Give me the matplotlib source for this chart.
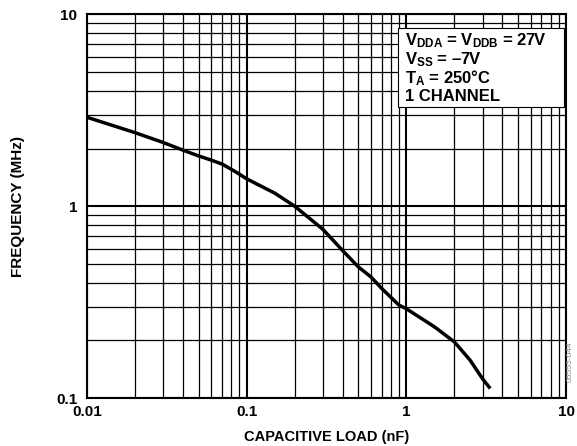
import matplotlib
matplotlib.use("Agg")
import matplotlib.pyplot as plt
from matplotlib.patches import Rectangle
from matplotlib.ticker import LogLocator, NullFormatter, FixedLocator, FixedFormatter

plt.rcParams['font.family'] = ['Liberation Sans', 'DejaVu Sans']
plt.rcParams['mathtext.fontset'] = 'custom'
plt.rcParams['mathtext.rm'] = 'Liberation Sans:bold'
plt.rcParams['mathtext.it'] = 'Liberation Sans:bold'
plt.rcParams['mathtext.bf'] = 'Liberation Sans:bold'

# Data
cap_nf = [0.01, 0.02, 0.03, 0.04, 0.05, 0.06, 0.07, 0.08, 0.09, 0.1, 0.15, 0.2,
          0.3, 0.4, 0.5, 0.6, 0.7, 0.8, 0.9, 1.0, 1.5, 2.0, 2.5, 3.0, 3.3]
freq_mhz = [2.91, 2.42, 2.15, 1.96, 1.83, 1.74, 1.66, 1.56, 1.47, 1.39, 1.17, 1.0,
            0.758, 0.586, 0.483, 0.428, 0.373, 0.335, 0.305, 0.292, 0.235, 0.196, 0.158, 0.126, 0.114]

x_ticks = [0.01, 0.1, 1, 10]
x_ticklabels = ["0.01", "0.1", "1", "10"]
y_ticks = [0.1, 1, 10]
y_ticklabels = ["0.1", "1", "10"]

fig = plt.figure(figsize=(5.77, 4.46), dpi=100)
ax = fig.add_axes([0.1508, 0.1076, 0.8302, 0.8599])
ax.set_xscale('log')
ax.set_yscale('log')
ax.set_xlim(0.01, 10)
ax.set_ylim(0.1, 10)

ax.xaxis.set_major_locator(FixedLocator(x_ticks))
ax.xaxis.set_major_formatter(FixedFormatter(x_ticklabels))
ax.yaxis.set_major_locator(FixedLocator(y_ticks))
ax.yaxis.set_major_formatter(FixedFormatter(y_ticklabels))
ax.xaxis.set_minor_locator(LogLocator(base=10, subs=range(2, 10)))
ax.yaxis.set_minor_locator(LogLocator(base=10, subs=range(2, 10)))
ax.xaxis.set_minor_formatter(NullFormatter())
ax.yaxis.set_minor_formatter(NullFormatter())

ax.grid(True, which='major', color='black', linewidth=1.5)
ax.grid(True, which='minor', color='black', linewidth=0.9)
ax.tick_params(which='both', length=0)
ax.tick_params(axis='x', pad=5)
ax.tick_params(axis='y', pad=7)
for lab in ax.get_xticklabels() + ax.get_yticklabels():
    lab.set_fontweight('bold')
    lab.set_fontsize(11)
for sp in ax.spines.values():
    sp.set_linewidth(1.5)
    sp.set_color('black')

ax.plot(cap_nf, freq_mhz, color='black', linewidth=2.5, zorder=3)

ax.set_xlabel("CAPACITIVE LOAD (nF)", fontweight='bold', fontsize=10.5, labelpad=8)
ax.set_ylabel("FREQUENCY (MHz)", fontweight='bold', fontsize=11, labelpad=22)

# Text box
ax.add_patch(Rectangle((0.649, 0.759), 0.347, 0.207, transform=ax.transAxes,
                       facecolor='white', edgecolor='black', linewidth=0.8, zorder=4))
lines = [r"V$_{\mathregular{DDA}}$ = V$_{\mathregular{DDB}}$ = 27V",
         r"V$_{\mathregular{SS}}$ = –7V",
         r"T$_{\mathregular{A}}$ = 250°C",
         "1 CHANNEL"]
y0 = 0.931
for i, t in enumerate(lines):
    ax.text(0.664, y0 - i * 0.0487, t, transform=ax.transAxes, fontsize=12,
            fontweight='bold', va='center', ha='left', zorder=5)

fig.text(0.988, 0.19, "05555-044", rotation=90, fontsize=6, color='#888888',
         ha='center', va='center')

fig.savefig("out.png", dpi=100)
